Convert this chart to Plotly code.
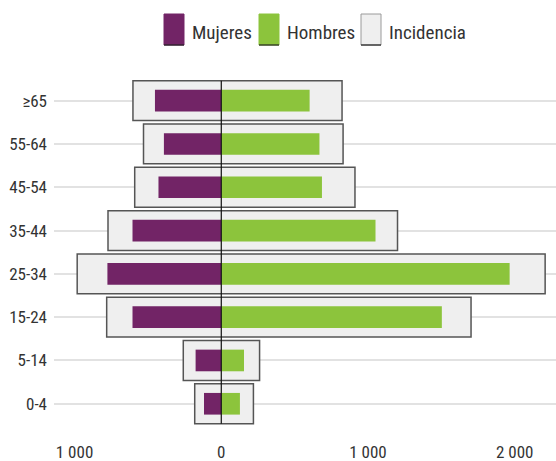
import plotly.graph_objects as go

# ---- data ----
grupos = ["0-4", "5-14", "15-24", "25-34", "35-44", "45-54", "55-64", "≥65"]
mujeres = [118, 175, 605, 776, 605, 428, 391, 452]
hombres = [127, 155, 1503, 1965, 1051, 686, 669, 602]
incidencia_mujeres = [181, 259, 781, 982, 772, 590, 530, 602]
incidencia_hombres = [219, 261, 1702, 2207, 1201, 911, 830, 823]
tick_vals = [-1000, 0, 1000, 2000]
tick_text = ["1 000", "0", "1 000", "2 000"]
series_names = ["Mujeres", "Hombres", "Incidencia"]

# ---- style ----
C_MUJ = "#722466"
C_HOM = "#8cc43c"
C_INC = "#efefef"
C_INC_LINE = "#555555"
FONT = "Liberation Sans Narrow, Roboto Condensed, DejaVu Sans Condensed, Arial Narrow, sans-serif"

W, H = 556, 461
ML, MR, MT, MB = 54, 0, 79, 20
PW, PH = W - ML - MR, H - MT - MB

def px_x(p):
    return (p - ML) / PW

def px_y(p):
    return (H - MB - p) / PH

fig = go.Figure()
fig.add_trace(go.Bar(
    y=grupos,
    x=[m + h for m, h in zip(incidencia_mujeres, incidencia_hombres)],
    base=[-m for m in incidencia_mujeres],
    orientation="h", width=0.92,
    marker=dict(color=C_INC, line=dict(color=C_INC_LINE, width=1.5)),
    name=series_names[2], showlegend=False, hoverinfo="skip",
))
fig.add_trace(go.Bar(
    y=grupos, x=[-v for v in mujeres], orientation="h", width=0.5,
    marker=dict(color=C_MUJ, line=dict(width=0)),
    name=series_names[0], showlegend=False,
))
fig.add_trace(go.Bar(
    y=grupos, x=hombres, orientation="h", width=0.5,
    marker=dict(color=C_HOM, line=dict(width=0)),
    name=series_names[1], showlegend=False,
))

shapes = [
    dict(type="line", xref="x", yref="y", x0=0, x1=0, y0=-0.46, y1=7.46,
         line=dict(color="#111111", width=1.2), layer="above"),
]
annotations = []

# manual legend (large swatches like the reference)
legend_items = [
    (series_names[0], C_MUJ, C_MUJ, 164, 190),
    (series_names[1], C_HOM, C_HOM, 259, 285),
    (series_names[2], C_INC, "#9a9a9a", 361, 387),
]
for name, fill, edge, sx, tx in legend_items:
    shapes.append(dict(type="rect", xref="paper", yref="paper",
                       x0=px_x(sx), x1=px_x(sx + 20), y0=px_y(45), y1=px_y(14),
                       fillcolor=fill, line=dict(color=edge, width=1), layer="above"))
    shapes.append(dict(type="line", xref="paper", yref="paper",
                       x0=px_x(sx), x1=px_x(sx + 20), y0=px_y(45), y1=px_y(45),
                       line=dict(color="#222222", width=1.2), layer="above"))
    annotations.append(dict(text=name, xref="paper", yref="paper",
                            x=px_x(tx), y=px_y(32), xanchor="left", yanchor="middle",
                            showarrow=False, font=dict(size=19, color="#333333", family=FONT)))

fig.update_layout(
    width=W, height=H,
    margin=dict(l=ML, r=MR, t=MT, b=MB, pad=0, autoexpand=False),
    barmode="overlay",
    plot_bgcolor="white", paper_bgcolor="white",
    font=dict(family=FONT, size=17, color="#333333"),
    showlegend=False,
    shapes=shapes,
    annotations=annotations,
    xaxis=dict(range=[-1140, 2281], tickvals=tick_vals, ticktext=tick_text,
               showgrid=False, zeroline=False, showline=False, automargin=False,
               ticklabelstandoff=-1,
               tickfont=dict(size=17, family=FONT, color="#333333")),
    yaxis=dict(type="category", categoryorder="array", categoryarray=grupos,
               range=[-0.86, 7.5], showgrid=True, gridcolor="#e2e2e2", gridwidth=1.5,
               zeroline=False, showline=False, ticklabelstandoff=6, automargin=False,
               tickfont=dict(size=17, family=FONT, color="#333333")),
)

fig.write_html("out.html", config={"displayModeBar": False},
               post_script="document.body.style.margin='0';document.body.style.overflow='hidden';")
